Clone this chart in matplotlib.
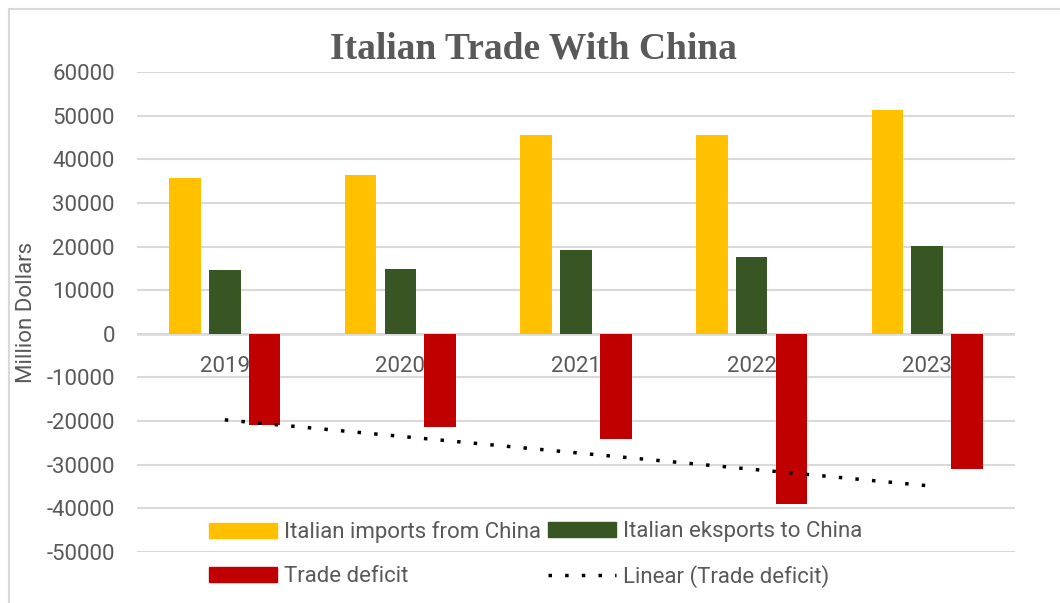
import numpy as np
import matplotlib
matplotlib.use("Agg")
import matplotlib.pyplot as plt
from matplotlib.patches import Patch, Rectangle
from matplotlib.lines import Line2D

years = ["2019", "2020", "2021", "2022", "2023"]
imports = [35600, 36300, 45500, 45500, 51300]
exports = [14700, 14900, 19300, 17500, 20200]
deficit = [-20900, -21400, -24100, -38900, -31000]
yticks = list(range(-50000, 60001, 10000))

GRAY = "#595959"
FONT = "Roboto"
FS = 16
DPI = 100
fig = plt.figure(figsize=(10.6, 6.03), dpi=DPI)
W, H = 1060, 603

def fx(px):
    return px / W

def fy(py):
    return 1 - py / H

ax = fig.add_axes([fx(137), fy(552), fx(1015) - fx(137), fy(72) - fy(552)])
x = np.arange(len(years))
bw = 0.18
off = 0.227
ax.bar(x - off, imports, bw, color="#FFC000", zorder=3)
ax.bar(x, exports, bw, color="#375623", zorder=3)
ax.bar(x + off, deficit, bw, color="#C00000", zorder=3)

DOT = (0, (1, 3.8))
LW = 2.5
coef = np.polyfit(x, deficit, 1)
trend = np.polyval(coef, x)
ax.plot(x, trend, color="black", lw=LW, linestyle=DOT,
        dash_capstyle="butt", zorder=4)

ax.set_xlim(-0.5, len(years) - 0.5)
ax.set_ylim(-50000, 60000)
ax.set_yticks(yticks)
ax.set_yticklabels([str(v) for v in yticks], fontsize=FS, color=GRAY, family=FONT)
ax.tick_params(axis="y", length=0, pad=16)
ax.set_xticks([])
ax.grid(axis="y", color="#d9d9d9", lw=1.5, zorder=0)
for s in ax.spines.values():
    s.set_visible(False)
ax.axhline(0, color="#d9d9d9", lw=1.8, zorder=1)

for i, yr in enumerate(years):
    ax.text(i, -7400, yr, ha="center", va="center", fontsize=FS, color=GRAY,
            family=FONT, zorder=2)

ax.set_ylabel("Million Dollars", fontsize=FS, color=GRAY, family=FONT, labelpad=7)

fig.text(fx(533), fy(49), "Italian Trade With China", ha="center", va="center",
         fontsize=27, fontweight="bold", color=GRAY, family="Liberation Serif")

h_imp = Patch(color="#FFC000")
h_exp = Patch(color="#375623")
h_def = Patch(color="#C00000")
h_lin = Line2D([0], [0], color="black", lw=LW, linestyle=DOT, dash_capstyle="butt")

common = dict(ncol=1, loc="upper left", frameon=False,
              prop={"family": FONT, "size": FS},
              handlelength=3.05, handleheight=0.65, handletextpad=0.32,
              labelspacing=1.03, borderpad=0, borderaxespad=0)
leg1 = fig.legend([h_imp, h_def], ["Italian imports from China", "Trade deficit"],
                  bbox_to_anchor=(fx(209), fy(521)), **common)
for t in leg1.get_texts():
    t.set_color(GRAY)
leg2 = fig.legend([h_exp, h_lin], ["Italian eksports to China", "Linear (Trade deficit)"],
                  bbox_to_anchor=(fx(548), fy(521)), **common)
for t in leg2.get_texts():
    t.set_color(GRAY)

fig.patches.append(Rectangle((fx(9), fy(603) - 0.05), 1.2, fy(9) - fy(603) + 0.05,
                             transform=fig.transFigure, fill=False,
                             edgecolor="#d9d9d9", lw=1.5))

fig.savefig("out.png", dpi=DPI)
